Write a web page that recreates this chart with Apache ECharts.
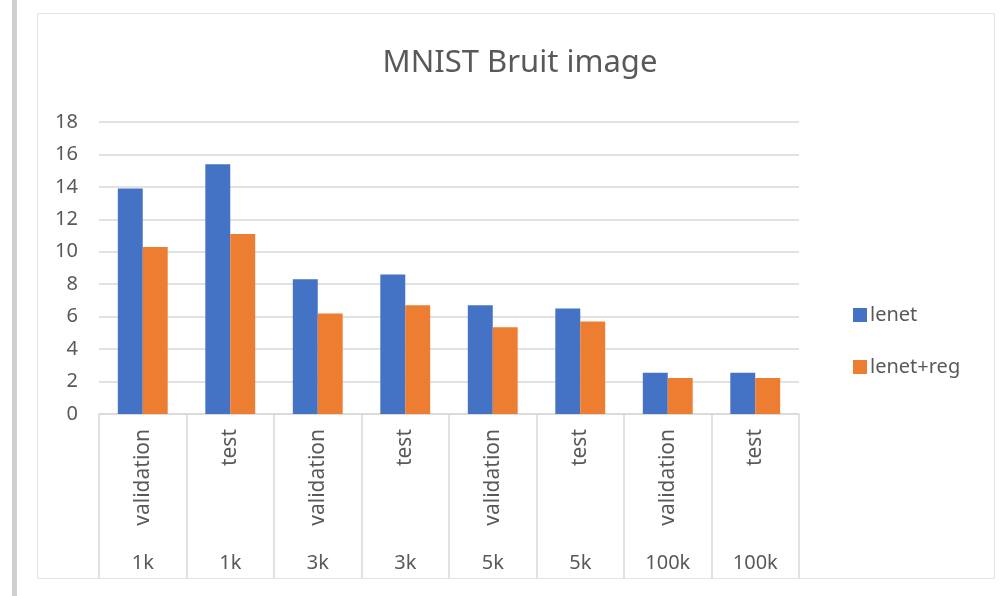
<!DOCTYPE html>
<html>
<head>
<meta charset="utf-8">
<script src="https://cdn.jsdelivr.net/npm/echarts@6/dist/echarts.min.js"></script>
<style>
html,body{margin:0;padding:0;background:#fff;}
#chart{width:1001px;height:596px;}
</style>
</head>
<body>
<div id="chart"></div>
<script>
const innerLabels = ['validation','test','validation','test','validation','test','validation','test'];
const outerLabels = ['1k','1k','3k','3k','5k','5k','100k','100k'];
const lenet = [13.9, 15.4, 8.3, 8.6, 6.7, 6.5, 2.55, 2.55];
const lenetReg = [10.3, 11.1, 6.2, 6.7, 5.35, 5.7, 2.22, 2.22];
const yTicks = [0, 2, 4, 6, 8, 10, 12, 14, 16, 18];

const FONT = '"Noto Sans", "Open Sans", sans-serif';
const TXT = '#595959';
const LINE = '#d9d9d9';

const chart = echarts.init(document.getElementById('chart'), null, {renderer: 'canvas'});
chart.setOption({
  animation: false,
  backgroundColor: '#ffffff',
  graphic: [
    {type: 'rect', shape: {x: 12, y: 0, width: 5, height: 596}, style: {fill: '#cfcfcf'}, z: 0},
    {type: 'rect', shape: {x: 37.5, y: 13.5, width: 957, height: 565}, style: {fill: 'none', stroke: '#e3e3e3', lineWidth: 1}, z: 0}
  ],
  title: {
    text: 'MNIST Bruit image',
    left: 515,
    textAlign: 'center',
    top: 43,
    textStyle: {fontFamily: FONT, fontSize: 31, fontWeight: 'normal', color: TXT}
  },
  legend: {
    orient: 'vertical',
    left: 848,
    top: 300,
    itemWidth: 14,
    itemHeight: 14,
    itemGap: 32,
    icon: 'rect',
    textStyle: {fontFamily: FONT, fontSize: 20, color: TXT, padding: [0, 0, 0, -2]},
    data: ['lenet', 'lenet+reg']
  },
  grid: {left: 99, right: 202, top: 122, bottom: 182, containLabel: false},
  xAxis: [
    {
      type: 'category',
      data: innerLabels,
      position: 'bottom',
      axisLine: {show: true, lineStyle: {color: LINE, width: 1.5}},
      axisTick: {show: true, length: 164, interval: 0, lineStyle: {color: LINE, width: 1.5}},
      axisLabel: {rotate: 90, margin: 15, interval: 0, fontFamily: FONT, fontSize: 21, color: TXT}
    },
    {
      type: 'category',
      data: outerLabels,
      position: 'bottom',
      axisLine: {show: false},
      axisTick: {show: false},
      axisLabel: {margin: 139, interval: 0, fontFamily: FONT, fontSize: 20, color: TXT}
    }
  ],
  yAxis: {
    type: 'value',
    min: yTicks[0],
    max: yTicks[yTicks.length - 1],
    interval: 2,
    axisLine: {show: false},
    axisTick: {show: false},
    axisLabel: {margin: 21, fontFamily: FONT, fontSize: 20, color: TXT},
    splitLine: {lineStyle: {color: LINE, width: 1.5}}
  },
  series: [
    {
      name: 'lenet', type: 'bar', data: lenet, xAxisIndex: 0,
      barGap: '0%', barCategoryGap: '43%',
      itemStyle: {color: '#4472c4'}
    },
    {
      name: 'lenet+reg', type: 'bar', data: lenetReg, xAxisIndex: 0,
      itemStyle: {color: '#ed7d31'}
    }
  ]
});
</script>
</body>
</html>
